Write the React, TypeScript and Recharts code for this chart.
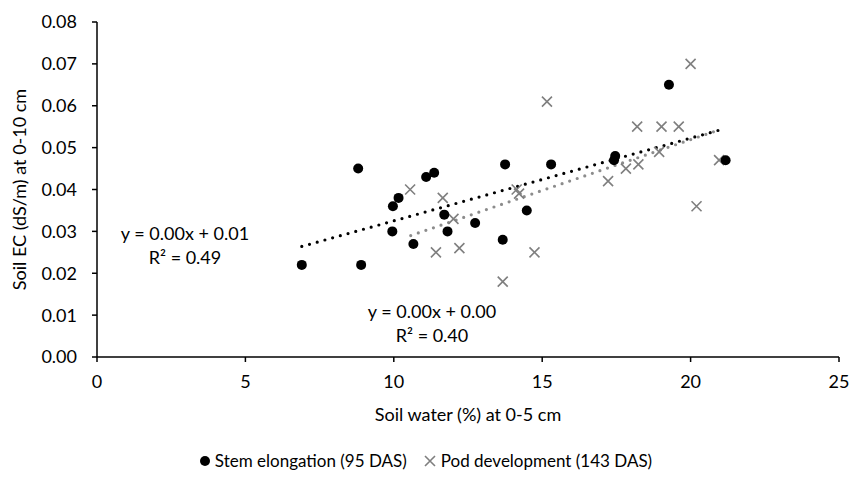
import React from "react";
import {
  ScatterChart,
  Scatter,
  XAxis,
  YAxis,
  Label,
} from "recharts";

// Stem elongation (95 DAS): soil water % vs soil EC
const stemX = [6.9, 8.8, 8.9, 9.95, 9.97, 10.16, 10.66, 11.09, 11.36, 11.7, 11.81, 12.74, 13.67, 13.75, 14.48, 15.3, 17.42, 17.46, 19.27, 21.18];
const stemY = [0.022, 0.045, 0.022, 0.03, 0.036, 0.038, 0.027, 0.043, 0.044, 0.034, 0.03, 0.032, 0.028, 0.046, 0.035, 0.046, 0.047, 0.048, 0.065, 0.047];

// Pod development (143 DAS)
const podX = [10.55, 11.42, 11.65, 12.01, 12.21, 13.67, 14.14, 14.22, 14.74, 15.16, 17.22, 17.82, 18.2, 18.24, 18.94, 19.02, 19.6, 20.0, 20.2, 20.96];
const podY = [0.04, 0.025, 0.038, 0.033, 0.026, 0.018, 0.04, 0.039, 0.025, 0.061, 0.042, 0.045, 0.055, 0.046, 0.049, 0.055, 0.055, 0.07, 0.036, 0.047];

// linear trendline endpoints
const stemTrendX = [6.9, 21.18];
const stemTrendY = [0.0264, 0.0546];
const podTrendX = [10.57, 20.9];
const podTrendY = [0.029, 0.0541];

const xTicks = [0, 5, 10, 15, 20, 25];
const yTicks = [0, 0.01, 0.02, 0.03, 0.04, 0.05, 0.06, 0.07, 0.08];

const zip = (xs: number[], ys: number[]) => xs.map((x, i) => ({ x, y: ys[i] }));

const stemData = zip(stemX, stemY);
const podData = zip(podX, podY);
const stemTrend = zip(stemTrendX, stemTrendY);
const podTrend = zip(podTrendX, podTrendY);

const FONT = "Lato, 'Open Sans', sans-serif";
const GRAY = "#7f7f7f";

const Cross = (props: any) => {
  const { cx, cy } = props;
  const s = 5;
  return (
    <path
      d={`M${cx - s},${cy - s}L${cx + s},${cy + s}M${cx - s},${cy + s}L${cx + s},${cy - s}`}
      stroke={GRAY}
      strokeWidth={1.6}
      fill="none"
    />
  );
};

const Dot = (props: any) => <circle cx={props.cx} cy={props.cy} r={5} fill="#000" />;

const NoShape = () => null;

const eqStyle: React.CSSProperties = {
  position: "absolute",
  fontFamily: FONT,
  fontSize: 18,
  color: "#000",
  textAlign: "center",
  lineHeight: "24px",
  width: 180,
};

export default function App() {
  return (
    <div style={{ position: "absolute", left: 0, top: 0, width: 851, height: 494, background: "#fff" }}>
      <ScatterChart
        width={851}
        height={494}
        margin={{ top: 22, right: 12, bottom: 77, left: 0 }}
        style={{ fontFamily: FONT }}
      >
        <XAxis
          type="number"
          dataKey="x"
          domain={[0, 25]}
          ticks={xTicks}
          allowDataOverflow
          axisLine={{ stroke: "#000", strokeWidth: 1.5 }}
          tickLine={{ stroke: "#000", strokeWidth: 1.5 }}
          tickSize={5}
          tickMargin={13}
          tick={{ fill: "#000", fontSize: 18 }}
          height={60}
        >
          <Label value="Soil water (%) at 0-5 cm" position="insideBottom" offset={-4} fill="#000" fontSize={18} />
        </XAxis>
        <XAxis
          xAxisId="top"
          orientation="top"
          type="number"
          dataKey="x"
          domain={[0, 25]}
          tick={false}
          tickLine={false}
          axisLine={{ stroke: "#000", strokeWidth: 1.2 }}
          height={0}
        />
        <YAxis
          type="number"
          dataKey="y"
          domain={[0, 0.08]}
          ticks={yTicks}
          allowDataOverflow
          tickFormatter={(v: number) => v.toFixed(2)}
          axisLine={{ stroke: "#000", strokeWidth: 1.5 }}
          tickLine={{ stroke: "#000", strokeWidth: 1.5 }}
          tickSize={5}
          tickMargin={15}
          tick={{ fill: "#000", fontSize: 18 }}
          width={97}
        >
          <Label
            value="Soil EC (dS/m) at 0-10 cm"
            angle={-90}
            position="insideLeft"
            offset={20}
            style={{ textAnchor: "middle" }}
            fill="#000"
            fontSize={18}
          />
        </YAxis>
        <YAxis
          yAxisId="right"
          orientation="right"
          type="number"
          dataKey="y"
          domain={[0, 0.08]}
          tick={false}
          tickLine={false}
          axisLine={{ stroke: "#000", strokeWidth: 1.2 }}
          width={0}
        />
        <Scatter
          data={stemTrend}
          line={{ stroke: "#000", strokeWidth: 3.2, strokeDasharray: "0 8", strokeLinecap: "round" }}
          shape={NoShape}
          legendType="none"
          isAnimationActive={false}
        />
        <Scatter
          data={podTrend}
          line={{ stroke: "#8c8c8c", strokeWidth: 3.2, strokeDasharray: "0 8", strokeLinecap: "round" }}
          shape={NoShape}
          legendType="none"
          isAnimationActive={false}
        />
        <Scatter data={podData} shape={Cross} isAnimationActive={false} />
        <Scatter data={stemData} shape={Dot} isAnimationActive={false} />
      </ScatterChart>
      <div
        style={{
          position: "absolute",
          left: 0,
          top: 450,
          width: 851,
          display: "flex",
          justifyContent: "center",
          gap: 16,
          fontFamily: FONT,
          fontSize: 17,
          color: "#000",
        }}
      >
        <span style={{ display: "flex", alignItems: "center" }}>
          <svg width={12} height={12} style={{ marginRight: 4 }}>
            <circle cx={6} cy={6} r={5} fill="#000" />
          </svg>
          Stem elongation (95 DAS)
        </span>
        <span style={{ display: "flex", alignItems: "center" }}>
          <svg width={14} height={12} style={{ marginRight: 4 }}>
            <path d="M2,1L12,11M2,11L12,1" stroke={GRAY} strokeWidth={1.6} />
          </svg>
          Pod development (143 DAS)
        </span>
      </div>
      <div style={{ ...eqStyle, left: 95, top: 221 }}>
        y = 0.00x + 0.01
        <br />
        R² = 0.49
      </div>
      <div style={{ ...eqStyle, left: 342, top: 299 }}>
        y = 0.00x + 0.00
        <br />
        R² = 0.40
      </div>
    </div>
  );
}
